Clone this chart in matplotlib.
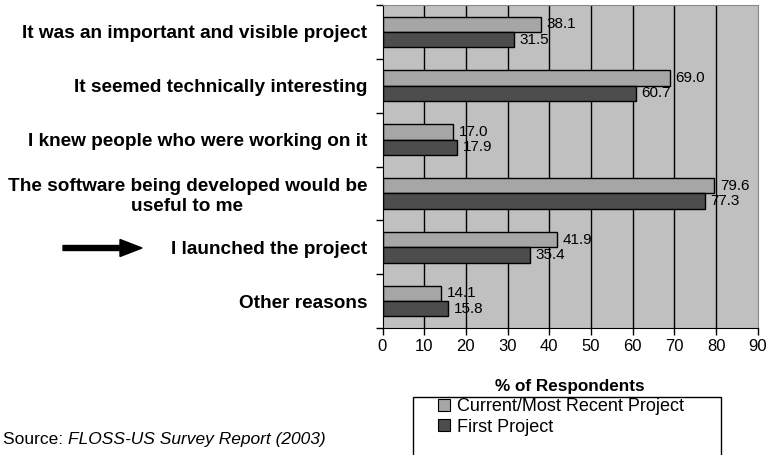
import numpy as np
import matplotlib
matplotlib.use('Agg')
import matplotlib.pyplot as plt
import matplotlib.transforms as mtransforms
from matplotlib.patches import Rectangle, FancyArrow
from matplotlib.lines import Line2D

plt.rcParams['font.family'] = 'Liberation Sans'

# data
reasons = ['It was an important and visible project',
           'It seemed technically interesting',
           'I knew people who were working on it',
           'The software being developed would be\nuseful to me',
           'I launched the project',
           'Other reasons']
current = [38.1, 69.0, 17.0, 79.6, 41.9, 14.1]
first = [31.5, 60.7, 17.9, 77.3, 35.4, 15.8]
xticks = [0, 10, 20, 30, 40, 50, 60, 70, 80, 90]

c_light = '#a6a6a6'
c_dark = '#4d4d4d'
c_bg = '#c0c0c0'

fig = plt.figure(figsize=(7.69, 4.55), dpi=100)
ax = fig.add_axes([382.5 / 769, 1 - 328 / 455, (757.7 - 382.5) / 769, (328 - 5) / 455])
ax.set_facecolor(c_bg)

y = np.arange(len(reasons))
h = 0.285
ax.barh(y - h / 2, current, height=h, color=c_light, edgecolor='black', lw=1, zorder=2)
ax.barh(y + h / 2, first, height=h, color=c_dark, edgecolor='black', lw=1, zorder=2)

# vertical gridlines
for xv in xticks[1:-1]:
    ax.axvline(xv, color='black', lw=1, zorder=1)

for yi, v in zip(y, current):
    ax.text(v + 1.3, yi - h / 2, f'{v:.1f}', va='center', ha='left', fontsize=11, zorder=0.9)
for yi, v in zip(y, first):
    ax.text(v + 1.3, yi + h / 2, f'{v:.1f}', va='center', ha='left', fontsize=11, zorder=0.9)

ax.set_xlim(0, 90)
ax.set_ylim(len(reasons) - 0.5, -0.5)
ax.set_xticks(xticks)
ax.set_xticklabels([str(t) for t in xticks], fontsize=12)
ax.tick_params(axis='x', direction='out', length=5, width=1, pad=3, color='black')

# category ticks on the boundaries, labels at the centres
ax.set_yticks(np.arange(len(reasons) + 1) - 0.5)
ax.set_yticklabels([])
ax.tick_params(axis='y', which='major', direction='out', length=5, width=1)
ax.set_yticks(y, minor=True)
ax.set_yticklabels(reasons, minor=True, fontsize=13.7, fontweight='bold',
                   multialignment='center')
ax.tick_params(axis='y', which='minor', length=0, pad=11)

for s in ['left', 'bottom']:
    ax.spines[s].set_color('black')
for s in ['top', 'right']:
    ax.spines[s].set_color('#8a8a8a')

ax.set_xlabel('% of Respondents', fontsize=12.3, fontweight='bold', labelpad=18)

# legend frame runs off the bottom of the picture
px = mtransforms.IdentityTransform()
fig.patches.append(Rectangle((413, -20), 721 - 413, 455 - 397 + 20, transform=px,
                             facecolor='white', edgecolor='black', lw=1))
handles = [Line2D([], [], ls='none', marker='s', markersize=8, markerfacecolor=c_light,
                  markeredgecolor='black', markeredgewidth=0.8),
           Line2D([], [], ls='none', marker='s', markersize=8, markerfacecolor=c_dark,
                  markeredgecolor='black', markeredgewidth=0.8)]
fig.legend(handles, ['Current/Most Recent Project', 'First Project'],
           loc='upper left', bbox_to_anchor=(437 / 769, 1 - 398 / 455), frameon=False,
           fontsize=13, handlelength=0.8, handletextpad=0.3, labelspacing=0.2,
           borderpad=0, borderaxespad=0)

# arrow pointing at "I launched the project"
fig.patches.append(FancyArrow(63, 455 - 248, 79, 0, width=5, head_width=17,
                              head_length=22, length_includes_head=True,
                              color='black', transform=px))

src = fig.text(3 / 769, 1 - 444 / 455, 'Source: ', fontsize=12.5, ha='left', va='baseline')
ax.annotate('FLOSS-US Survey Report (2003)', xy=(1, 0), xycoords=src,
            fontsize=12.5, style='italic', ha='left', va='bottom', annotation_clip=False)

fig.savefig('out.png', dpi=100)
